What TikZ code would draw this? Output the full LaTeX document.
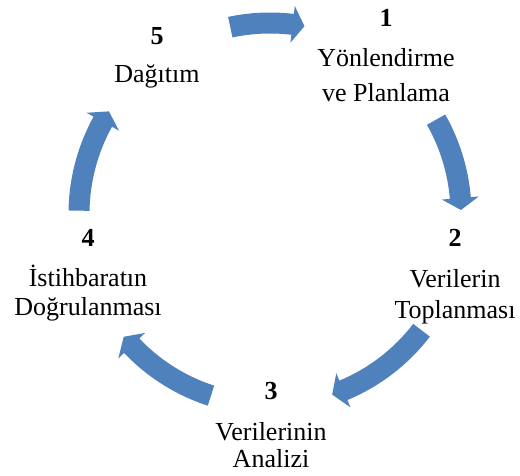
\documentclass[tikz,border=0pt]{standalone}
\usepackage{fontspec}
\setmainfont{Liberation Serif}
\definecolor{arrowblue}{RGB}{79,129,189}
\begin{document}
\begin{tikzpicture}[x=1pt,y=1pt,
  lbl/.style={align=center,anchor=north,inner sep=0pt},
  cyclearrow/.style={fill=arrowblue}]
\useasboundingbox (0,0) rectangle (520,475);
% arrows: center (270,261), radius 191
\def\R{191}\def\w{10.5}\def\h{18.5}
\newcommand{\cycarrow}[3]{% tail angle, head base angle, tip angle
  \fill[cyclearrow] ([shift={(270,261)}]#1:\R+\w) arc[start angle=#1,end angle=#2,radius=\R+\w]
    -- ([shift={(270,261)}]#2:\R+\h) -- ([shift={(270,261)}]#3:\R)
    -- ([shift={(270,261)}]#2:\R-\h) -- ([shift={(270,261)}]#2:\R-\w)
    arc[start angle=#2,end angle=#1,radius=\R-\w] -- cycle;}
\cycarrow{102}{83.2}{79.6}
\cycarrow{29.6}{4.8}{1.2}
\cycarrow{-37.5}{-67.4}{-71}
\cycarrow{-108}{-136.4}{-140}
\cycarrow{179}{151.1}{147.5}
\node[lbl,font=\fontsize{26}{35}\selectfont] (n1) at (386,465.6) {\textbf{1}\\[5pt]Yönlendirme\\ve Planlama};
\node[lbl,font=\fontsize{26}{31}\selectfont] (n2) at (455,245.6) {\textbf{2}\\[10pt]Verilerin\\Toplanması};
\node[lbl,font=\fontsize{26}{27}\selectfont] (n3) at (271,92.6) {\textbf{3}\\[14pt]Verilerinin\\Analizi};
\node[lbl,font=\fontsize{26}{29}\selectfont] (n4) at (88,245.6) {\textbf{4}\\[11pt]İstihbaratın\\Doğrulanması};
\node[lbl,font=\fontsize{26}{31}\selectfont] (n5) at (157,447.6) {\textbf{5}\\[7pt]Dağıtım};
\end{tikzpicture}
\end{document}
